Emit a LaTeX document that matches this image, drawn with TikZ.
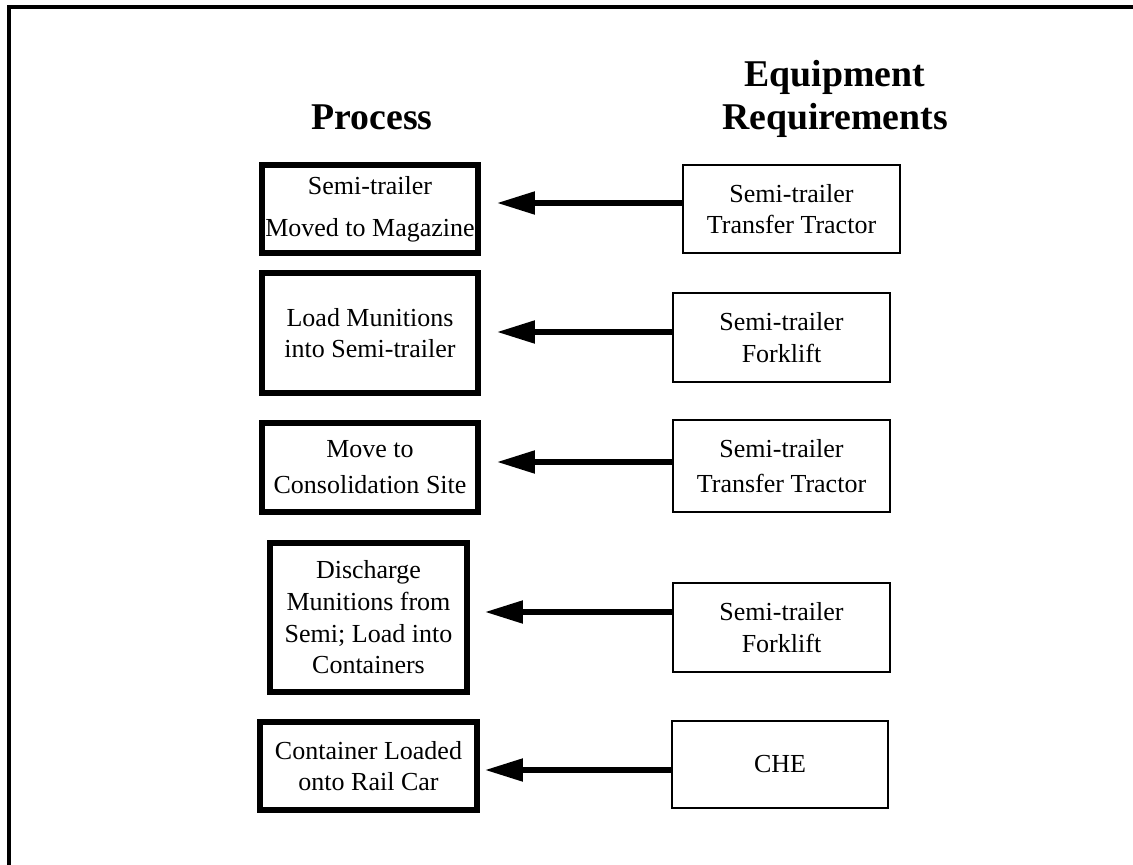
\documentclass[tikz,border=0pt]{standalone}
\usepackage{fontspec}
\setmainfont{Liberation Serif}
\usepackage{tikz}
\usetikzlibrary{arrows.meta}
\tikzset{
process box/.style args = {#1, #2}{ rectangle, draw = black, line width = 3.4pt, fill = white, minimum width = #1*0.02cm, minimum height = #2*0.02cm, inner sep = 0pt, align = center, font = \fontsize{14.8}{18}\selectfont },
equipment box/.style args = {#1, #2}{ rectangle, draw = black, line width = 1.6pt, fill = white, minimum width = #1*0.02cm, minimum height = #2*0.02cm, inner sep = 0pt, align = center, font = \fontsize{14.8}{18}\selectfont },
header/.style = { align = center, inner sep = 0pt, font = \fontsize{21.5}{25}\selectfont\bfseries },
req arrow/.style = { draw = black, line width = 3pt, -{Triangle[length = 0.76cm, width = 0.44cm]} },
frame line/.style = { draw = black, line width = 1.8pt },
}
\begin{document}
\begin{tikzpicture}[x = 0.02cm, y = -0.02cm]
      \useasboundingbox (0, 0) rectangle (1133, 865);
      \draw[frame line] (9, 865) -- (9, 7) -- (1133, 7);
      \node[header, anchor = base] (process) at (372, 130) {Process};
      \node[header, anchor = base] (equipment) at (835, 130) {Equipment\\Requirements};
      % process steps
      \node[process box = {216, 88}, font = \fontsize{14.8}{24}\selectfont] (p1) at (370, 209) {Semi-trailer\\Moved to Magazine};
      \node[process box = {216, 120}] (p2) at (370, 333) {Load Munitions\\into Semi-trailer};
      \node[process box = {216, 89}, font = \fontsize{14.8}{20.5}\selectfont] (p3) at (370, 467.5) {Move to\\Consolidation Site};
      \node[process box = {197, 149}] (p4) at (368.5, 617.5) {Discharge\\Munitions from\\Semi; Load into\\Containers};
      \node[process box = {217, 88}] (p5) at (368.5, 766) {Container Loaded\\onto Rail Car};
      % equipment
      \node[equipment box = {217, 88}] (e1) at (791.5, 209) {Semi-trailer\\Transfer Tractor};
      \node[equipment box = {217, 89}] (e2) at (781.5, 337.5) {Semi-trailer\\Forklift};
      \node[equipment box = {217, 92}, font = \fontsize{14.8}{20}\selectfont] (e3) at (781.5, 466) {Semi-trailer\\Transfer Tractor};
      \node[equipment box = {217, 89}] (e4) at (781.5, 627.5) {Semi-trailer\\Forklift};
      \node[equipment box = {216, 87}] (e5) at (780, 764.5) {CHE};
      % arrow tips
      \coordinate (t1) at (497, 203);
      \coordinate (t2) at (497, 332);
      \coordinate (t3) at (497, 462);
      \coordinate (t4) at (485, 612);
      \coordinate (t5) at (485, 770);
      \draw[req arrow] (e1.west |- t1) -- (t1);
      \draw[req arrow] (e2.west |- t2) -- (t2);
      \draw[req arrow] (e3.west |- t3) -- (t3);
      \draw[req arrow] (e4.west |- t4) -- (t4);
      \draw[req arrow] (e5.west |- t5) -- (t5);
    \end{tikzpicture}
\end{document}
